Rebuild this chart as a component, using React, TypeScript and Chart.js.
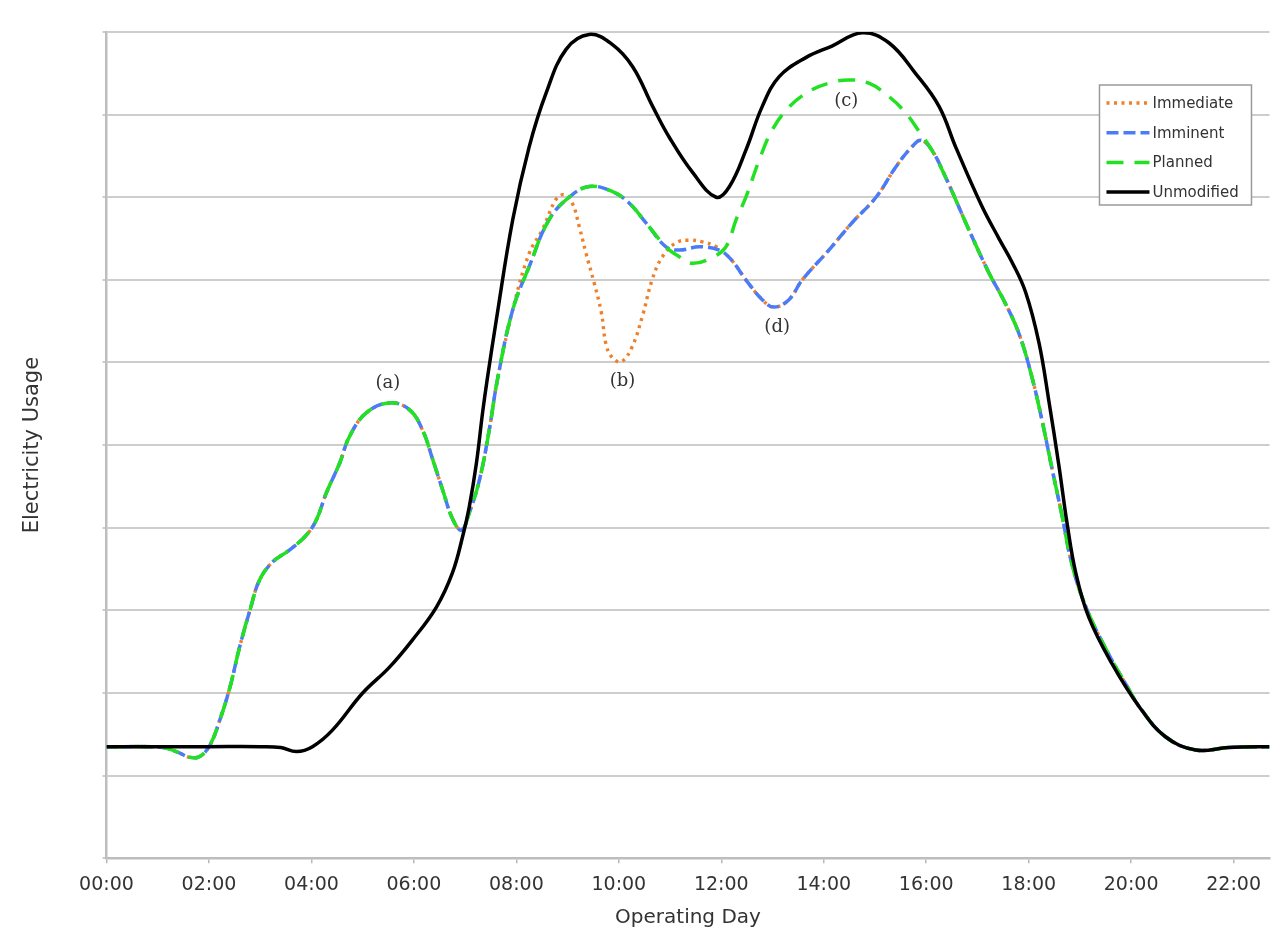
import React, { useEffect, useRef } from 'react';
import { Chart, registerables } from 'chart.js';

Chart.register(...registerables);

// ---- X axis (hours of the operating day) ----
const xTickHours = [0, 2, 4, 6, 8, 10, 12, 14, 16, 18, 20, 22];
const xTickLabels = ['00:00', '02:00', '04:00', '06:00', '08:00', '10:00', '12:00', '14:00', '16:00', '18:00', '20:00', '22:00'];
const xMin = 0;
const xMax = 22.7;

// ---- Unmodified ----
const unmodifiedHours = [0, 1, 2, 3.0, 3.4, 3.71, 4.02, 4.41, 5.0, 5.52, 5.97, 6.44, 6.75, 6.95, 7.08, 7.22, 7.34, 7.43, 7.61, 7.93, 8.25, 8.58, 8.97, 9.42, 9.87, 10.27, 10.66, 10.99, 11.44, 11.9, 12.16, 12.48, 12.8, 13.13, 13.65, 14.16, 14.75, 15.27, 15.79, 16.25, 16.58, 17.08, 17.42, 17.67, 17.94, 18.2, 18.39, 18.59, 18.75, 18.92, 19.17, 19.62, 20.15, 20.67, 21.26, 21.9, 22.7, 23];
const unmodifiedValues = [1.35, 1.35, 1.35, 1.35, 1.34, 1.29, 1.35, 1.55, 2.0, 2.31, 2.64, 3.04, 3.45, 3.89, 4.25, 4.78, 5.39, 5.79, 6.52, 7.73, 8.61, 9.26, 9.79, 9.97, 9.85, 9.58, 9.1, 8.72, 8.3, 8.0, 8.13, 8.57, 9.1, 9.46, 9.69, 9.83, 9.99, 9.87, 9.5, 9.1, 8.6, 7.9, 7.5, 7.22, 6.85, 6.24, 5.55, 4.75, 4.05, 3.45, 2.92, 2.36, 1.84, 1.47, 1.31, 1.34, 1.35, 1.35];

// ---- Imminent ----
const imminentHours = [0, 1.1, 1.4, 1.63, 1.82, 2.02, 2.21, 2.41, 2.6, 2.8, 2.99, 3.25, 3.57, 3.9, 4.1, 4.29, 4.55, 4.74, 5.07, 5.52, 5.91, 6.17, 6.37, 6.56, 6.76, 6.93, 7.08, 7.28, 7.47, 7.63, 7.93, 8.25, 8.64, 9.03, 9.42, 9.87, 10.2, 10.53, 10.92, 11.18, 11.57, 11.96, 12.2, 12.48, 12.8, 13.03, 13.32, 13.58, 14.1, 14.55, 15.02, 15.41, 15.72, 15.9, 16.11, 16.38, 16.83, 17.22, 17.54, 17.81, 18.06, 18.26, 18.45, 18.65, 18.84, 19.11, 19.56, 19.95, 20.15, 20.67, 21.26, 21.9, 22.7, 23];
const imminentValues = [1.35, 1.34, 1.28, 1.22, 1.23, 1.37, 1.67, 2.07, 2.56, 3.0, 3.37, 3.59, 3.73, 3.91, 4.1, 4.42, 4.78, 5.1, 5.39, 5.51, 5.43, 5.18, 4.82, 4.46, 4.1, 3.97, 4.18, 4.58, 5.18, 5.79, 6.64, 7.16, 7.73, 8.0, 8.13, 8.07, 7.93, 7.69, 7.4, 7.36, 7.4, 7.36, 7.24, 7.0, 6.76, 6.67, 6.76, 7.0, 7.36, 7.69, 8.0, 8.37, 8.61, 8.69, 8.57, 8.24, 7.61, 7.09, 6.72, 6.35, 5.83, 5.3, 4.73, 4.15, 3.57, 3.05, 2.47, 2.05, 1.84, 1.47, 1.31, 1.34, 1.35, 1.35];

// ---- Planned ----
const plannedHours = [0, 1.1, 1.4, 1.63, 1.82, 2.02, 2.21, 2.41, 2.6, 2.8, 2.99, 3.25, 3.57, 3.9, 4.1, 4.29, 4.55, 4.74, 5.07, 5.52, 5.91, 6.17, 6.37, 6.56, 6.76, 6.93, 7.08, 7.28, 7.47, 7.63, 7.93, 8.25, 8.64, 9.03, 9.42, 9.87, 10.2, 10.53, 10.92, 11.18, 11.44, 11.82, 12.09, 12.29, 12.48, 12.74, 12.99, 13.32, 13.71, 14.1, 14.49, 14.88, 15.27, 15.6, 15.9, 16.11, 16.38, 16.83, 17.22, 17.54, 17.81, 18.06, 18.26, 18.45, 18.65, 18.84, 19.11, 19.56, 19.95, 20.15, 20.67, 21.26, 21.9, 22.7, 23];
const plannedValues = [1.35, 1.34, 1.28, 1.22, 1.23, 1.37, 1.67, 2.07, 2.56, 3.0, 3.37, 3.59, 3.73, 3.91, 4.1, 4.42, 4.78, 5.1, 5.39, 5.51, 5.43, 5.18, 4.82, 4.46, 4.1, 3.97, 4.18, 4.58, 5.18, 5.79, 6.64, 7.16, 7.73, 8.0, 8.13, 8.07, 7.93, 7.69, 7.4, 7.28, 7.2, 7.27, 7.4, 7.73, 8.0, 8.45, 8.81, 9.09, 9.28, 9.38, 9.42, 9.38, 9.22, 9.02, 8.76, 8.57, 8.24, 7.61, 7.09, 6.72, 6.35, 5.83, 5.3, 4.73, 4.15, 3.57, 3.05, 2.47, 2.05, 1.84, 1.47, 1.31, 1.34, 1.35, 1.35];

// ---- Immediate ----
const immediateHours = [0, 1.1, 1.4, 1.63, 1.82, 2.02, 2.21, 2.41, 2.6, 2.8, 2.99, 3.25, 3.57, 3.9, 4.1, 4.29, 4.55, 4.74, 5.07, 5.52, 5.91, 6.17, 6.37, 6.56, 6.76, 6.93, 7.08, 7.28, 7.47, 7.63, 7.93, 8.25, 8.51, 8.77, 8.93, 9.09, 9.23, 9.36, 9.52, 9.66, 9.75, 9.87, 10.05, 10.26, 10.46, 10.65, 10.85, 11.12, 11.37, 11.63, 11.9, 12.2, 12.48, 12.8, 13.03, 13.32, 13.58, 14.1, 14.55, 15.02, 15.41, 15.72, 15.9, 16.11, 16.38, 16.83, 17.22, 17.54, 17.81, 18.06, 18.26, 18.45, 18.65, 18.84, 19.11, 19.56, 19.95, 20.15, 20.67, 21.26, 21.9, 22.7, 23];
const immediateValues = [1.35, 1.34, 1.28, 1.22, 1.23, 1.37, 1.67, 2.07, 2.56, 3.0, 3.37, 3.59, 3.73, 3.91, 4.1, 4.42, 4.78, 5.1, 5.39, 5.51, 5.43, 5.18, 4.82, 4.46, 4.1, 3.97, 4.18, 4.58, 5.18, 5.79, 6.64, 7.32, 7.61, 7.97, 8.03, 7.93, 7.64, 7.32, 6.96, 6.6, 6.22, 6.06, 6.01, 6.19, 6.56, 7.0, 7.28, 7.45, 7.48, 7.46, 7.4, 7.24, 7.0, 6.76, 6.67, 6.76, 7.0, 7.36, 7.69, 8.0, 8.37, 8.61, 8.69, 8.57, 8.24, 7.61, 7.09, 6.72, 6.35, 5.83, 5.3, 4.73, 4.15, 3.57, 3.05, 2.47, 2.05, 1.84, 1.47, 1.31, 1.34, 1.35, 1.35];

// ---- Letter annotations ----
const annotationLabels = ['(a)', '(b)', '(c)', '(d)'];
const annotationHours = [5.49, 10.07, 14.44, 13.09];
const annotationValues = [5.75, 5.77, 9.16, 6.43];

// ---- Legend order ----
const legendOrder = ['Immediate', 'Imminent', 'Planned', 'Unmodified'];

const toPoints = (hs: number[], vs: number[]) => hs.map((h, i) => ({ x: h, y: vs[i] }));

const letterPlugin = {
  id: 'letterAnnotations',
  afterDatasetsDraw(chart: any) {
    const { ctx, scales } = chart;
    ctx.save();
    ctx.font = '18px "DejaVu Serif"';
    ctx.fillStyle = '#333333';
    ctx.textAlign = 'center';
    ctx.textBaseline = 'middle';
    annotationLabels.forEach((t, i) => {
      ctx.fillText(t, scales.x.getPixelForValue(annotationHours[i]), scales.y.getPixelForValue(annotationValues[i]));
    });
    ctx.restore();
  },
};

const boxLegendPlugin = {
  id: 'boxLegend',
  afterDraw(chart: any) {
    const { ctx, chartArea } = chart;
    const w = 152;
    const h = 120;
    const left = chartArea.right - 18 - w;
    const top = chartArea.top + 53;
    ctx.save();
    ctx.fillStyle = '#ffffff';
    ctx.fillRect(left, top, w, h);
    ctx.strokeStyle = '#9a9a9a';
    ctx.lineWidth = 1.5;
    ctx.strokeRect(left, top, w, h);
    ctx.font = '15px "DejaVu Sans"';
    ctx.textBaseline = 'middle';
    ctx.textAlign = 'left';
    legendOrder.forEach((name, i) => {
      const ds = chart.data.datasets.find((d: any) => d.label === name);
      const yy = top + 18 + i * 29.7;
      ctx.save();
      ctx.strokeStyle = ds.borderColor;
      ctx.lineWidth = ds.borderWidth;
      ctx.setLineDash(ds.borderDash || []);
      ctx.lineCap = 'butt';
      ctx.beginPath();
      ctx.moveTo(left + 7, yy);
      ctx.lineTo(left + 50, yy);
      ctx.stroke();
      ctx.restore();
      ctx.fillStyle = '#333333';
      ctx.fillText(name, left + 53, yy + 1);
    });
    ctx.restore();
  },
};

export default function App() {
  const canvasRef = useRef<HTMLCanvasElement | null>(null);

  useEffect(() => {
    document.body.style.margin = '0';
    const canvas = canvasRef.current;
    if (!canvas) return;

    const common = {
      pointRadius: 0,
      pointHoverRadius: 0,
      fill: false,
      tension: 0.4,
    };

    const chart = new Chart(canvas, {
      type: 'line',
      data: {
        datasets: [
          {
            ...common,
            label: 'Unmodified',
            data: toPoints(unmodifiedHours, unmodifiedValues),
            borderColor: '#000000',
            backgroundColor: '#000000',
            borderWidth: 3.5,
          },
          {
            ...common,
            label: 'Planned',
            data: toPoints(plannedHours, plannedValues),
            borderColor: '#22E022',
            backgroundColor: '#22E022',
            borderWidth: 3.5,
            borderDash: [17, 11],
          },
          {
            ...common,
            label: 'Imminent',
            data: toPoints(imminentHours, imminentValues),
            borderColor: '#4A7CF7',
            backgroundColor: '#4A7CF7',
            borderWidth: 3.5,
            borderDash: [12, 5],
          },
          {
            ...common,
            label: 'Immediate',
            data: toPoints(immediateHours, immediateValues),
            borderColor: '#F07F2A',
            backgroundColor: '#F07F2A',
            borderWidth: 3.4,
            borderDash: [3, 4.5],
          },
        ],
      },
      options: {
        animation: false,
        responsive: false,
        events: [],
        layout: { padding: { left: 0, right: 0, top: 32, bottom: 0 } },
        font: { family: '"DejaVu Sans"' },
        plugins: {
          legend: { display: false },
          tooltip: { enabled: false },
          title: { display: false },
        },
        scales: {
          x: {
            type: 'linear',
            min: xMin,
            max: xMax,
            afterBuildTicks: (scale: any) => {
              scale.ticks = xTickHours.map((v) => ({ value: v }));
            },
            ticks: {
              includeBounds: false,
              autoSkip: false,
              maxRotation: 0,
              padding: 10,
              color: '#333333',
              font: { family: '"DejaVu Sans"', size: 19 },
              callback: (_v: any, i: number) => xTickLabels[i],
            },
            grid: {
              drawOnChartArea: false,
              drawTicks: true,
              tickLength: 5,
              color: '#b8b8b8',
              lineWidth: 1.5,
            },
            border: { display: true, color: '#bdbdbd', width: 2.5 },
            title: {
              display: true,
              text: 'Operating Day',
              color: '#333333',
              font: { family: '"DejaVu Sans"', size: 20 },
              padding: { top: 0, bottom: 0 },
            },
          },
          y: {
            type: 'linear',
            min: 0,
            max: 10,
            ticks: { display: false, stepSize: 1 },
            grid: {
              color: '#cdcdcd',
              lineWidth: 2,
              drawTicks: true,
              tickLength: 4,
            },
            border: { display: true, color: '#bdbdbd', width: 2.5 },
            title: {
              display: true,
              text: 'Electricity Usage',
              color: '#333333',
              font: { family: '"DejaVu Sans"', size: 21 },
              padding: { top: 20, bottom: 57.3 },
            },
          },
        },
      },
      plugins: [letterPlugin, boxLegendPlugin],
    });

    return () => {
      chart.destroy();
    };
  }, []);

  return (
    <div style={{ width: 1271, height: 930 }}>
      <canvas ref={canvasRef} width={1271} height={930} style={{ display: 'block' }} />
    </div>
  );
}
